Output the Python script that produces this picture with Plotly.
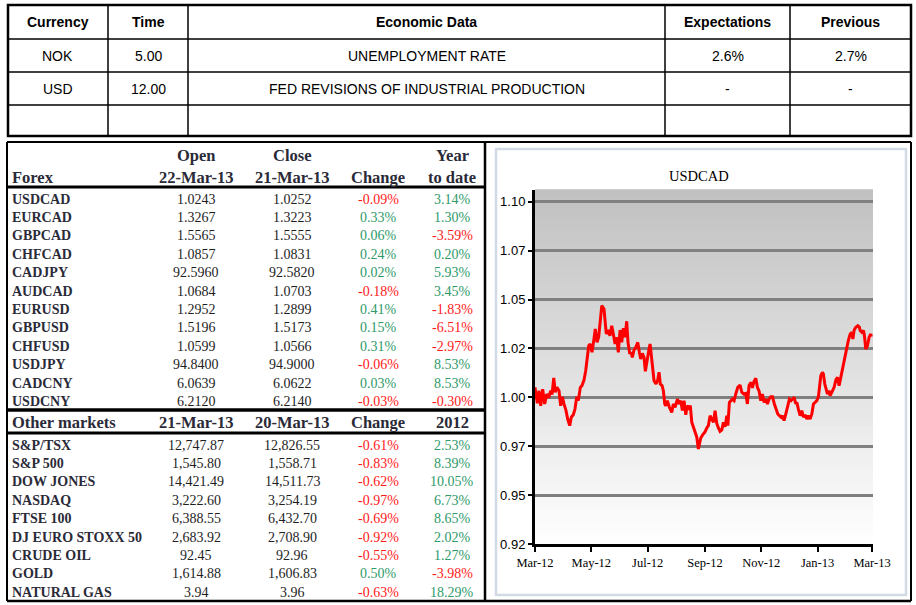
import plotly.graph_objects as go
import pandas as pd

# ---------------- DATA ----------------
cal_headers = ["Currency", "Time", "Economic Data", "Expectations", "Previous"]
cal_currency = ["NOK", "USD", ""]
cal_time = ["5.00", "12.00", ""]
cal_event = ["UNEMPLOYMENT RATE", "FED REVISIONS OF INDUSTRIAL PRODUCTION", ""]
cal_expect = ["2.6%", "-", ""]
cal_prev = ["2.7%", "-", ""]

fx_head_top = ["", "Open", "Close", "", "Year"]
fx_head_bot = ["Forex", "22-Mar-13", "21-Mar-13", "Change", "to date"]
fx_pairs = ["USDCAD", "EURCAD", "GBPCAD", "CHFCAD", "CADJPY", "AUDCAD",
            "EURUSD", "GBPUSD", "CHFUSD", "USDJPY", "CADCNY", "USDCNY"]
fx_open = ["1.0243", "1.3267", "1.5565", "1.0857", "92.5960", "1.0684",
           "1.2952", "1.5196", "1.0599", "94.8400", "6.0639", "6.2120"]
fx_close = ["1.0252", "1.3223", "1.5555", "1.0831", "92.5820", "1.0703",
            "1.2899", "1.5173", "1.0566", "94.9000", "6.0622", "6.2140"]
fx_change = [-0.09, 0.33, 0.06, 0.24, 0.02, -0.18, 0.41, 0.15, 0.31, -0.06, 0.03, -0.03]
fx_ytd = [3.14, 1.30, -3.59, 0.20, 5.93, 3.45, -1.83, -6.51, -2.97, 8.53, 8.53, -0.30]

mk_head = ["Other markets", "21-Mar-13", "20-Mar-13", "Change", "2012"]
mk_names = ["S&P/TSX", "S&P 500", "DOW JONES", "NASDAQ", "FTSE 100",
            "DJ EURO STOXX 50", "CRUDE OIL", "GOLD", "NATURAL GAS"]
mk_last = ["12,747.87", "1,545.80", "14,421.49", "3,222.60", "6,388.55",
           "2,683.92", "92.45", "1,614.88", "3.94"]
mk_prev = ["12,826.55", "1,558.71", "14,511.73", "3,254.19", "6,432.70",
           "2,708.90", "92.96", "1,606.83", "3.96"]
mk_change = [-0.61, -0.83, -0.62, -0.97, -0.69, -0.92, -0.55, 0.50, -0.63]
mk_2012 = [2.53, 8.39, 10.05, 6.73, 8.65, 2.02, 1.27, -3.98, 18.29]

chart_title = "USDCAD"
series_start = "2012-03-22"
day_offsets = [0, 2.5, 4.3, 6.2, 8.3, 10.5, 12.7, 14.8, 17.0, 18.4, 20.3, 22.0, 23.8, 26.0,
               27.8, 29.6, 31.4, 33.6, 35.4, 37.6, 39.3, 41.5, 43.3, 45.2, 46.9, 49.1, 50.9,
               53.1, 54.9, 56.7, 58.2, 59.9, 61.7, 63.6, 65.3, 67.2, 69.0, 72.3, 74.7, 77.2,
               79.4, 81.2, 83.1, 84.8, 86.7, 88.5, 90.2, 92.1, 93.9, 95.7, 97.5, 99.3, 100.7,
               102.6, 104.0, 105.4, 107.2, 109.1, 111.3, 113.0, 114.5, 116.2, 118.1, 119.5,
               121.3, 123.2, 124.6, 126.0, 127.5, 128.9, 131.1, 132.9, 134.3, 135.7, 137.6,
               139.0, 140.5, 141.6, 143.3, 145.5, 148.1, 149.8, 151.7, 154.2, 156.0, 157.8,
               159.6, 161.4, 163.3, 164.7, 166.5, 168.2, 169.8, 171.5, 173.3, 175.2, 176.9,
               178.0, 179.5, 181.7, 183.8, 186.0, 187.7, 189.6, 191.4, 193.2, 195.0, 196.8,
               198.6, 200.4, 202.3, 204.0, 205.8, 207.7, 208.8, 210.5, 213.7, 215.6, 217.4,
               219.6, 222.1, 223.9, 226.1, 228.2, 230.0, 231.8, 234.0, 235.4, 237.2, 239.1,
               240.8, 242.7, 244.5, 246.2, 248.1, 249.9, 251.7, 253.5, 255.3, 257.1, 259.2,
               261.1, 262.9, 264.7, 266.5, 267.9, 269.7, 271.6, 273.8, 275.5, 277.3, 280.6,
               282.4, 283.5, 285.2, 287.1, 288.9, 290.7, 292.5, 294.3, 296.1, 297.9, 299.8,
               301.5, 303.3, 305.2, 306.9, 308.0, 309.5, 311.2, 312.3, 313.8, 315.2, 316.7,
               318.2, 319.6, 321.4, 322.5, 323.9, 325.8, 327.5, 329.3, 330.4, 332.3, 334.0,
               335.8, 337.7, 339.4, 341.3, 343.1, 344.2, 345.6, 347.4, 349.6, 351.3, 352.1,
               353.9, 355.7, 356.7, 358.2, 360.0, 361.8, 363.7, 364.0]
usdcad = [1.0051, 0.9969, 1.0034, 0.9957, 1.0041, 0.9966, 1.0017, 0.9997, 1.0034, 1.0014,
          1.0099, 1.0026, 1.0051, 1.0034, 0.9957, 1.0003, 0.9966, 0.9932, 0.9889, 0.9855,
          0.9898, 0.9911, 0.9940, 1.0003, 0.9983, 1.0051, 1.0060, 1.0089, 1.0136, 1.0196,
          1.0264, 1.0273, 1.0230, 1.0290, 1.0349, 1.0281, 1.0310, 1.0469, 1.0452, 1.0324,
          1.0344, 1.0315, 1.0366, 1.0324, 1.0273, 1.0307, 1.0230, 1.0344, 1.0281, 1.0354,
          1.0307, 1.0389, 1.0281, 1.0222, 1.0230, 1.0204, 1.0242, 1.0256, 1.0281, 1.0230,
          1.0196, 1.0225, 1.0204, 1.0133, 1.0196, 1.0239, 1.0273, 1.0213, 1.0145, 1.0085,
          1.0068, 1.0089, 1.0128, 1.0068, 1.0060, 1.0034, 0.9966, 0.9957, 0.9983, 0.9949,
          0.9923, 0.9966, 0.9949, 0.9991, 0.9966, 0.9983, 0.9932, 0.9983, 0.9911, 0.9957,
          0.9945, 0.9957, 0.9872, 0.9847, 0.9830, 0.9796, 0.9736, 0.9770, 0.9792, 0.9809,
          0.9821, 0.9843, 0.9855, 0.9906, 0.9884, 0.9872, 0.9932, 0.9867, 0.9843, 0.9826,
          0.9833, 0.9872, 0.9850, 0.9906, 0.9855, 0.9974, 0.9991, 0.9983, 1.0017, 1.0051,
          1.0063, 1.0026, 1.0017, 1.0020, 0.9966, 1.0060, 1.0077, 1.0048, 1.0082, 1.0097,
          1.0051, 1.0031, 0.9983, 1.0017, 0.9974, 0.9991, 0.9966, 0.9991, 1.0003, 1.0003,
          0.9966, 0.9940, 0.9915, 0.9906, 0.9898, 0.9906, 0.9881, 0.9915, 0.9966, 0.9991,
          0.9983, 1.0000, 0.9966, 0.9974, 0.9940, 0.9906, 0.9932, 0.9898, 0.9911, 0.9889,
          0.9906, 0.9889, 0.9915, 0.9966, 0.9974, 0.9983, 1.0003, 1.0051, 1.0111, 1.0128,
          1.0119, 1.0068, 1.0034, 1.0017, 1.0034, 1.0009, 1.0026, 1.0037, 1.0051, 1.0089,
          1.0102, 1.0060, 1.0085, 1.0136, 1.0162, 1.0222, 1.0264, 1.0293, 1.0324, 1.0332,
          1.0298, 1.0344, 1.0358, 1.0366, 1.0358, 1.0341, 1.0332, 1.0341, 1.0315, 1.0247,
          1.0264, 1.0307, 1.0324, 1.0310]

x_tick_dates = ["2012-03-22", "2012-05-22", "2012-07-22", "2012-09-22",
                "2012-11-22", "2013-01-22", "2013-03-22"]
x_tick_labels = ["Mar-12", "May-12", "Jul-12", "Sep-12", "Nov-12", "Jan-13", "Mar-13"]
y_tick_vals = [0.925, 0.95, 0.975, 1.00, 1.025, 1.05, 1.075, 1.10]
y_tick_labels = ["0.92", "0.95", "0.97", "1.00", "1.02", "1.05", "1.07", "1.10"]
y_range = [0.925, 1.106]
x_range = ["2012-03-22", "2013-03-23"]

# ---------------- LAYOUT HELPERS ----------------
W, H = 916, 605


def PX(x):
    return x / W


def PY(y):
    return 1 - y / H


GREEN = "#2F9A6A"
RED = "#FF1A1A"
LABEL = "#2A2A38"
VALUE = "#1E1E1E"
SERIF = "Liberation Serif, Times New Roman, serif"
SANS = "Liberation Sans, Arial, sans-serif"

dates = pd.Timestamp(series_start) + pd.to_timedelta(day_offsets, unit="D")

fig = go.Figure()
fig.add_trace(go.Scatter(x=dates, y=usdcad, mode="lines",
                         line=dict(color="#FF0000", width=3), hoverinfo="skip"))

shapes = []
annotations = []


def hline(y, x0, x1, w=1.5, color="black"):
    shapes.append(dict(type="line", xref="paper", yref="paper", x0=PX(x0), x1=PX(x1),
                       y0=PY(y), y1=PY(y), line=dict(color=color, width=w)))


def vline(x, y0, y1, w=1.5, color="black"):
    shapes.append(dict(type="line", xref="paper", yref="paper", x0=PX(x), x1=PX(x),
                       y0=PY(y0), y1=PY(y1), line=dict(color=color, width=w)))


def text(x, y, s, size, color="black", family=SANS, bold=False, anchor="center"):
    if bold:
        s = "<b>" + s + "</b>"
    annotations.append(dict(xref="paper", yref="paper", x=PX(x), y=PY(y), text=s,
                            showarrow=False, xanchor=anchor, yanchor="middle",
                            font=dict(size=size, color=color, family=family)))


# ---- top calendar table ----
top_cols = [8, 108, 188, 665, 790, 911]
top_rows = [5, 39, 72, 105, 136]
for x in top_cols[1:-1]:
    vline(x, top_rows[0], top_rows[-1], 1.5)
for y in top_rows[1:-1]:
    hline(y, top_cols[0], top_cols[-1], 1.5)
shapes.append(dict(type="rect", xref="paper", yref="paper", x0=PX(8), x1=PX(911),
                   y0=PY(136), y1=PY(5), line=dict(color="black", width=2.5)))
col_centers = [(top_cols[i] + top_cols[i + 1]) / 2 for i in range(5)]
row_centers = [(top_rows[i] + top_rows[i + 1]) / 2 for i in range(4)]
for c, h in zip(col_centers, cal_headers):
    text(c, row_centers[0], h, 14, bold=True)
for r in range(3):
    vals = [cal_currency[r], cal_time[r], cal_event[r], cal_expect[r], cal_prev[r]]
    for c, v in zip(col_centers, vals):
        if v:
            text(c, row_centers[r + 1], v, 14)

# ---- left market table + right box frame ----
hline(142, 7, 911, 2)
hline(601, 7, 911, 2.5)
vline(7, 142, 601, 2)
vline(485, 142, 601, 2.5)
vline(911, 142, 601, 2)
hline(187, 7, 485, 3)
hline(410, 7, 485, 3.5)
hline(433, 7, 485, 3)

col_x = [10, 196, 292, 378, 452]


def pct(v):
    return f"{v:.2f}%"


def pct_color(v):
    return RED if v < 0 else GREEN


for i in range(1, 5):
    if fx_head_top[i]:
        text(col_x[i], 155, fx_head_top[i], 16.5, LABEL, SERIF, bold=True)
text(col_x[0], 177, fx_head_bot[0], 16.5, LABEL, SERIF, bold=True, anchor="left")
for i in range(1, 5):
    text(col_x[i], 177, fx_head_bot[i], 16.5, LABEL, SERIF, bold=True)

fx_y0, fx_step = 199, 18.4
for r, name in enumerate(fx_pairs):
    y = fx_y0 + r * fx_step
    text(col_x[0], y, name, 14, LABEL, SERIF, bold=True, anchor="left")
    text(col_x[1], y, fx_open[r], 14, VALUE, SERIF)
    text(col_x[2], y, fx_close[r], 14, VALUE, SERIF)
    text(col_x[3], y, pct(fx_change[r]), 14, pct_color(fx_change[r]), SERIF)
    text(col_x[4], y, pct(fx_ytd[r]), 14, pct_color(fx_ytd[r]), SERIF)

text(col_x[0], 422, mk_head[0], 16.5, LABEL, SERIF, bold=True, anchor="left")
for i in range(1, 5):
    text(col_x[i], 422, mk_head[i], 16.5, LABEL, SERIF, bold=True)

mk_y0, mk_step = 445, 18.4
for r, name in enumerate(mk_names):
    y = mk_y0 + r * mk_step
    text(col_x[0], y, name, 14, LABEL, SERIF, bold=True, anchor="left")
    text(col_x[1], y, mk_last[r], 14, VALUE, SERIF)
    text(col_x[2], y, mk_prev[r], 14, VALUE, SERIF)
    text(col_x[3], y, pct(mk_change[r]), 14, pct_color(mk_change[r]), SERIF)
    text(col_x[4], y, pct(mk_2012[r]), 14, pct_color(mk_2012[r]), SERIF)

# ---- chart box ----
shapes.append(dict(type="rect", xref="paper", yref="paper", x0=PX(496), x1=PX(906),
                   y0=PY(595), y1=PY(149), line=dict(color="#D2DAE6", width=2.5)))
text(699, 176, chart_title, 14.5, "black", SERIF)

# gradient background in plot area
N = 60
for i in range(N):
    g = int(round(255 - 63 * (i + 0.5) / N))
    col = f"rgb({g},{g},{g})"
    shapes.append(dict(type="rect", xref="x domain", yref="y domain", x0=0, x1=1,
                       y0=i / N, y1=(i + 1) / N + 0.002, layer="below",
                       fillcolor=col, line=dict(width=0)))

fig.update_layout(
    width=W, height=H, margin=dict(l=0, r=0, t=0, b=0, pad=0, autoexpand=False),
    autosize=False,
    paper_bgcolor="white", plot_bgcolor="white", showlegend=False,
    shapes=shapes, annotations=annotations,
    xaxis=dict(domain=[PX(535), PX(873)], type="date", range=x_range,
               tickvals=x_tick_dates, ticktext=x_tick_labels,
               showgrid=False, zeroline=False, showline=True, linecolor="black", linewidth=3,
               ticks="outside", ticklen=5, tickwidth=2, tickcolor="black",
               tickfont=dict(family=SERIF, size=12.5, color="black")),
    yaxis=dict(domain=[PY(544), PY(190)], range=y_range,
               tickvals=y_tick_vals, ticktext=y_tick_labels,
               showgrid=True, gridcolor="#808080", gridwidth=3, zeroline=False,
               showline=True, linecolor="black", linewidth=3,
               ticks="outside", ticklen=4, tickwidth=2, tickcolor="black",
               tickfont=dict(family="Liberation Sans Narrow, Arial Narrow, Liberation Sans",
                             size=13, color="black")),
)

fig.write_html("out.html", config={"displayModeBar": False},
               post_script="document.body.style.margin='0px';")
